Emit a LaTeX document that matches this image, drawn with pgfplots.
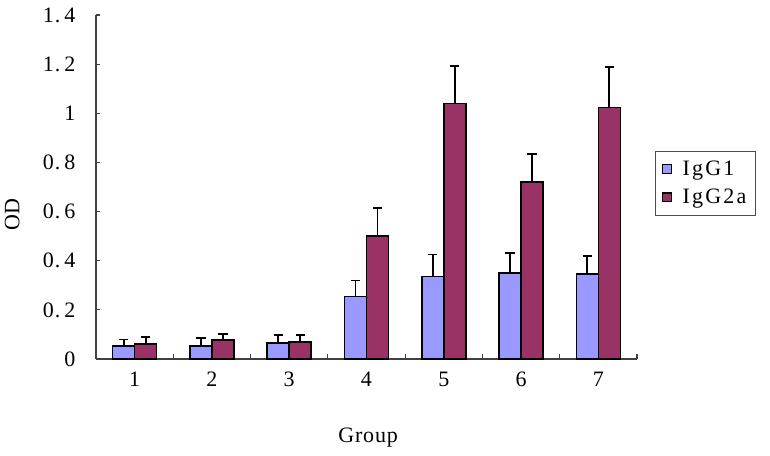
\documentclass[border=0pt]{standalone}
\usepackage{pgfplots}
\pgfplotsset{compat=1.18}
\usepackage{fontspec}
\setmainfont{Liberation Serif}
\newfontfamily\spfont[LetterSpace=4]{Liberation Serif}
\newfontfamily\lgfont[LetterSpace=10]{Liberation Serif}
\definecolor{igga}{RGB}{153,153,255}
\definecolor{iggb}{RGB}{153,51,102}
\newcommand{\dg}[2]{#1.\hspace{3pt}#2}
\newcommand{\fs}{\spfont\fontsize{16.5}{18}\selectfont}
\begin{document}
\begin{tikzpicture}[x=1pt,y=1pt]
\useasboundingbox (-72,-72) rectangle (505.5,269.25);
\begin{axis}[
  scale only axis,
  width=405.75pt, height=258pt,
  xmin=0.5, xmax=7.5, ymin=0, ymax=1.4,
  axis lines=left,
  axis line style={-, black!75, line width=0.8pt},
  ybar=0pt, bar width=16.5pt,
  xtick={1,...,7},
  xticklabels={1,2,3,4,5,6,7},
  minor xtick={1.5,2.5,...,7.5},
  major x tick style={draw=none},
  minor tick length=4pt,
  minor x tick style={black!75, line width=0.8pt},
  ytick={0,0.2,...,1.4},
  yticklabels={0,{\dg{0}{2}},{\dg{0}{4}},{\dg{0}{6}},{\dg{0}{8}},1,{\dg{1}{2}},{\dg{1}{4}}},
  major tick length=3pt,
  tick align=inside,
  y tick style={black!75, line width=0.8pt},
  tick label style={font=\fs},
  xticklabel style={yshift=-6pt},
  yticklabel style={xshift=-12pt},
  legend style={at={(1.033,0.605)}, anchor=north west, draw=black!70, line width=0.6pt,
    font=\lgfont\fontsize{16.5}{18}\selectfont, row sep=5pt, inner xsep=5pt, inner ysep=5pt},
  legend cell align=left,
  legend image code/.code={\draw[#1, line width=0.9pt] (0pt,-3.3pt) rectangle (6.6pt,3.3pt);},
  clip=false,
]
\addplot+[fill=igga, draw=black, line width=1.1pt,
  error bars/.cd, y dir=plus, y explicit,
  error bar style={black, line width=1.3pt}, error mark options={black, line width=1.3pt, mark size=3.5pt, rotate=90}]
  coordinates {
  (1,0.053) +- (0,0.026)
  (2,0.053) +- (0,0.033)
  (3,0.066) +- (0,0.033)
  (4,0.254) +- (0,0.065)
  (5,0.335) +- (0,0.090)
  (6,0.350) +- (0,0.082)
  (7,0.346) +- (0,0.074)
  };
\addplot+[fill=iggb, draw=black, line width=1.1pt,
  error bars/.cd, y dir=plus, y explicit,
  error bar style={black, line width=1.3pt}, error mark options={black, line width=1.3pt, mark size=3.5pt, rotate=90}]
  coordinates {
  (1,0.062) +- (0,0.028)
  (2,0.078) +- (0,0.025)
  (3,0.070) +- (0,0.029)
  (4,0.500) +- (0,0.115)
  (5,1.039) +- (0,0.154)
  (6,0.720) +- (0,0.114)
  (7,1.023) +- (0,0.164)
  };
\legend{{\hspace{6pt}IgG1},{\hspace{6pt}IgG2a}}
\node[rotate=90, font=\fs] at (axis description cs:-0.155,0.42) {OD};
\node[font=\fs] at (axis description cs:0.503,-0.227) {Group};
\end{axis}
\end{tikzpicture}
\end{document}
